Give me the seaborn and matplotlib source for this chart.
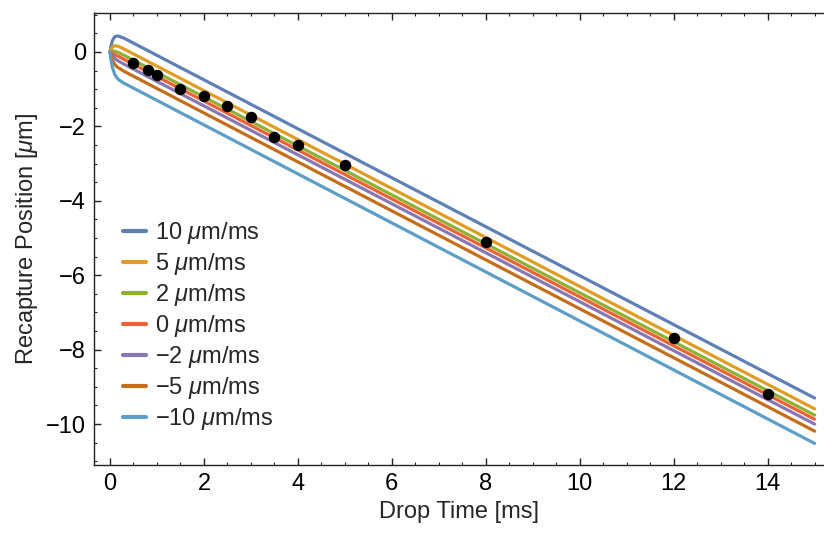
import numpy as np
import pandas as pd
import matplotlib
matplotlib.use("Agg")
import matplotlib.pyplot as plt
import seaborn as sns
from matplotlib.ticker import MultipleLocator

# ---- data ----
velocities = ["10", "5", "2", "0", "\u22122", "\u22125", "\u221210"]
curve_t = [0, 0.02, 0.05, 0.1, 0.15, 0.2, 0.3, 15]
curve_v10 = [0, 0.16, 0.30, 0.41, 0.43, 0.42, 0.37, -9.30]
curve_v5 = [0, 0.07, 0.13, 0.17, 0.16, 0.14, 0.08, -9.59]
curve_v2 = [0, 0.02, 0.03, 0.02, 0.00, -0.03, -0.09, -9.76]
curve_v0 = [0, -0.01, -0.03, -0.07, -0.10, -0.13, -0.20, -9.87]
curve_vm2 = [0, -0.05, -0.11, -0.17, -0.22, -0.26, -0.33, -10.00]
curve_vm5 = [0, -0.11, -0.22, -0.33, -0.40, -0.44, -0.52, -10.19]
curve_vm10 = [0, -0.21, -0.41, -0.60, -0.70, -0.76, -0.84, -10.52]

points_t = [0.5, 0.8, 1.0, 1.5, 2.0, 2.5, 3.0, 3.5, 4.0, 5.0, 8.0, 12.0, 14.0]
points_y = [-0.30, -0.49, -0.62, -1.00, -1.19, -1.44, -1.75, -2.29, -2.49,
            -3.05, -5.12, -7.68, -9.19]

colors = ["#5E81B5", "#E19C24", "#8FB032", "#EB6235", "#8778B3", "#C56E1A", "#5D9EC7"]

# ---- build tables ----
curves = [curve_v10, curve_v5, curve_v2, curve_v0, curve_vm2, curve_vm5, curve_vm10]
labels = [f"{v} $\\mu$m/ms" for v in velocities]
rows = []
for lab, ys in zip(labels, curves):
    for t, y in zip(curve_t, ys):
        rows.append({"t": t, "y": y, "label": lab})
df = pd.DataFrame(rows)
pts = pd.DataFrame({"t": points_t, "y": points_y})

sns.set_style("ticks")
plt.rcParams["font.family"] = ["Liberation Sans", "DejaVu Sans"]
plt.rcParams["mathtext.fontset"] = "custom"
plt.rcParams["mathtext.it"] = "Liberation Sans:italic"
plt.rcParams["mathtext.rm"] = "Liberation Sans"
plt.rcParams["axes.unicode_minus"] = True

fig = plt.figure(figsize=(8.24, 5.38), dpi=100)
ax = fig.add_axes([94.3 / 824, 1 - 465 / 538, 1 - 94.3 / 824, (465 - 12.7) / 538])

sns.lineplot(data=df, x="t", y="y", hue="label", hue_order=labels,
             palette=colors, linewidth=2.3, ax=ax, sort=False)
sns.scatterplot(data=pts, x="t", y="y", color="black", s=68, linewidth=0,
                ax=ax, zorder=5, legend=False)

ax.set_xlim(-0.334, 15.2)
ax.set_ylim(-11.10, 1.056)

ax.xaxis.set_major_locator(MultipleLocator(2))
ax.xaxis.set_minor_locator(MultipleLocator(0.5))
ax.yaxis.set_major_locator(MultipleLocator(2))
ax.yaxis.set_minor_locator(MultipleLocator(0.5))

frame_col = "#222222"
for side in ["left", "bottom", "top"]:
    ax.spines[side].set_color(frame_col)
    ax.spines[side].set_linewidth(1.0)
ax.spines["right"].set_visible(False)

ax.tick_params(which="both", direction="in", top=True, right=False,
               color=frame_col, labelsize=17, labelcolor="black")
ax.tick_params(which="major", length=5, width=1, pad=6)
ax.tick_params(which="minor", length=2.5, width=0.8)

ax.set_xlabel("Drop Time [ms]", fontsize=17, labelpad=4)
ax.set_ylabel("Recapture Position [$\\mu$m]", fontsize=17, labelpad=4)

leg = ax.legend(loc="center left", bbox_to_anchor=(0.04, 0.307), frameon=False,
                fontsize=17, handlelength=0.95, handletextpad=0.4,
                labelspacing=0.21, borderpad=0, borderaxespad=0)
for h in leg.get_lines():
    h.set_linewidth(3)

fig.savefig("out.png", dpi=100)
